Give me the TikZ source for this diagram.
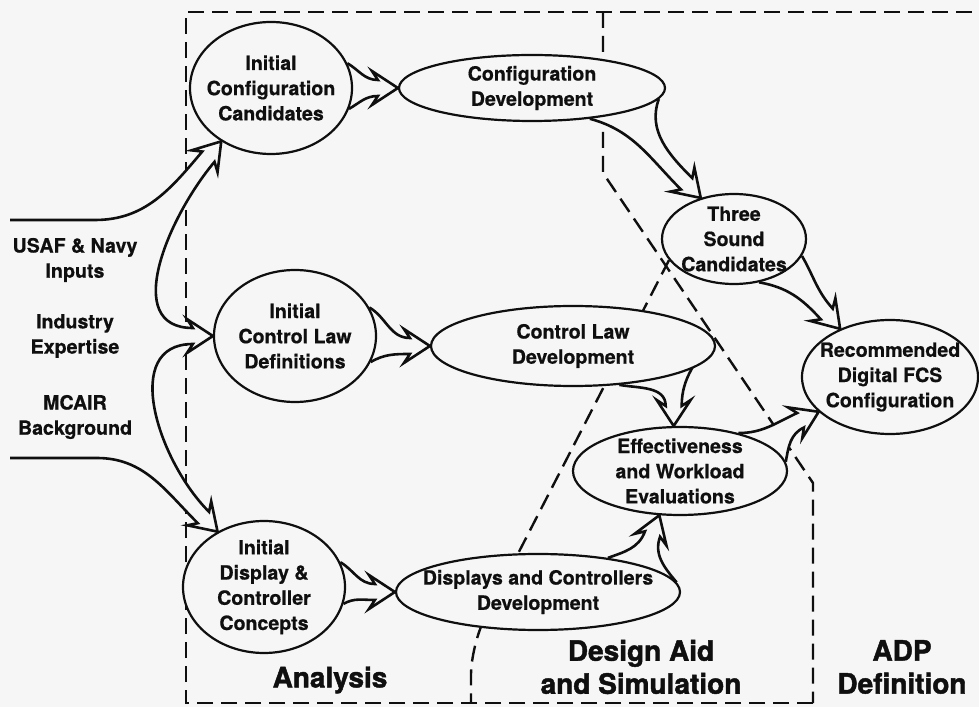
\documentclass[tikz,border=0pt]{standalone}
\usepackage{fontspec}
\setmainfont{TeX Gyre Heros}[BoldFeatures={FakeBold=0.6}]
\newfontfamily\heavyfont{TeX Gyre Heros}[BoldFeatures={FakeBold=1.6}]
\usetikzlibrary{
	shapes,
	calc}
\pgfdeclarelayer{back}
\pgfdeclarelayer{mid}
\pgfsetlayers{back,mid,main}
\definecolor{paper}{gray}{0.965}
\definecolor{ink}{gray}{0.06}

% head of a hollow block arrow: name, tip, direction
\newcommand{\fathead}[3]{%
	\path (#2) ++({#3+180}:20) ++({#3+90}:8) coordinate (#1u);
	\path (#2) ++({#3+180}:26) ++({#3+90}:17) coordinate (#1wu);
	\path (#2) ++({#3+180}:26) ++({#3-90}:17) coordinate (#1wl);
	\path (#2) ++({#3+180}:20) ++({#3-90}:8) coordinate (#1l);}

\begin{document}
\begin{tikzpicture}[x=0.5pt,y=0.5pt,every text node part/.style={align=center}]
	\tikzstyle{oval}=[ellipse,draw=ink,fill=paper,line width=1.1pt,inner sep=-15pt,
		text=ink,font=\bfseries\fontsize{9.8}{12.6}\selectfont]
	\tikzstyle{fat}=[draw=ink,fill=paper,line width=1.3pt]
	\tikzstyle{frame}=[draw=ink,line width=1.2pt,dash pattern=on 8pt off 4pt]
	\tikzstyle{side}=[text=ink,font=\bfseries\fontsize{9.8}{12.6}\selectfont]
	\tikzstyle{phase}=[text=ink,font=\heavyfont\bfseries\fontsize{14}{16.5}\selectfont]

	\useasboundingbox (0,0) rectangle (979,707);

	\foreach \name/\x/\y/\txt in {icc/271/619/{Initial\\Configuration\\Candidates},
			icl/295/371/{Initial\\Control Law\\Definitions},
			idc/264/120/{Initial\\Display \&\\Controller\\Concepts}}
		\node[oval,minimum width=81pt,minimum height=66pt] (\name) at (\x,\y) {\txt};

	\node[oval,minimum width=133pt,minimum height=33pt] (cdev) at (532,619) {Configuration\\Development};
	\node[oval,minimum width=142pt,minimum height=40pt] (cldev) at (573,361) {Control Law\\Development};
	\node[oval,minimum width=142pt,minimum height=38pt] (dcdev) at (538,115) {Displays and Controllers\\Development};
	\node[oval,minimum width=72pt,minimum height=45pt] (tsc) at (734,468) {Three\\Sound\\Candidates};
	\node[oval,minimum width=107pt,minimum height=44pt] (ewe) at (680,236) {Effectiveness\\and Workload\\Evaluations};
	\node[oval,minimum width=88pt,minimum height=57pt] (rdf) at (890,330) {Recommended\\Digital FCS\\Configuration};

	\foreach \name/\y/\txt in {usaf/447/{USAF \& Navy\\Inputs}, ind/371/{Industry\\Expertise}, mcair/290/{MCAIR\\Background}}
		\node[side] (\name) at (75,\y) {\txt};

	\node[phase] (ana) at (330,27) {Analysis};
	\node[phase] (das) at (641,40) {Design Aid\\and Simulation};
	\node[phase] (adp) at (902,40) {ADP\\Definition};

	\coordinate (inA) at (10,487);
	\coordinate (inB) at (10,249);

	% regions
	\begin{pgfonlayer}{back}
		\fill[paper] (0,0) rectangle (979,707);
		\draw[frame] (813,4) -- (186,4) -- (186,695) -- (979,695);
		\draw[frame] (603,695) -- (603,534) -- (813,224) -- (813,4);
		\draw[frame,rounded corners=15pt] (tsc.198) -- (471,62) -- (471,4);
	\end{pgfonlayer}

	% arrows
	\begin{pgfonlayer}{mid}
		\fathead{h1}{icc.227}{50}
		\fathead{h2}{icl.180}{0}
		\fathead{h3}{idc.130}{-45}
		\draw[fat] (inA) -- (95,487) to[out=0,in=230] (h1u) -- (h1wu) -- (icc.227) -- (h1wl) -- (h1l)
			to[out=230,in=180,looseness=1.1] (h2u) -- (h2wu) -- (icl.180) -- (h2wl) -- (h2l)
			to[out=180,in=135,looseness=1.1] (h3u) -- (h3wu) -- (idc.130) -- (h3wl) -- (h3l)
			to[out=135,in=0] (97,249) -- (inB);

		\fathead{a1}{cdev.west}{0}
		\draw[fat] (icc.18) to[out=-30,in=180] (a1u) -- (a1wu) -- (cdev.west) -- (a1wl) -- (a1l) to[out=180,in=30] (icc.-15);
		\fathead{a2}{cldev.west}{0}
		\draw[fat] (icl.21) to[out=-30,in=180] (a2u) -- (a2wu) -- (cldev.west) -- (a2wl) -- (a2l) to[out=180,in=30] (icl.-19);
		\fathead{a3}{dcdev.west}{0}
		\draw[fat] (idc.18) to[out=-30,in=180] (a3u) -- (a3wu) -- (dcdev.west) -- (a3wl) -- (a3l) to[out=180,in=30] (idc.-12);

		\fathead{a4}{tsc.129}{-45}
		\draw[fat] (cdev.-5) to[out=-110,in=135] (a4u) -- (a4wu) -- (tsc.129) -- (a4wl) -- (a4l) to[out=135,in=-15] (cdev.-28);
		\fathead{a5}{rdf.136}{-48}
		\draw[fat] (tsc.-14) to[out=-60,in=132] (a5u) -- (a5wu) -- (rdf.136) -- (a5wl) -- (a5l) to[out=132,in=-10] (tsc.-60);
		\fathead{a6}{ewe.98}{-90}
		\draw[fat] (cldev.4) to[out=-120,in=90] (a6u) -- (a6wu) -- (ewe.98) -- (a6wl) -- (a6l) to[out=90,in=-10] (cldev.-40);
		\fathead{a7}{ewe.245}{70}
		\draw[fat] (dcdev.26) to[out=20,in=250] (a7u) -- (a7wu) -- (ewe.245) -- (a7wl) -- (a7l) to[out=250,in=130] (dcdev.4);
		\fathead{a8}{rdf.206}{25}
		\draw[fat] (ewe.33) to[out=0,in=205] (a8u) -- (a8wu) -- (rdf.206) -- (a8wl) -- (a8l) to[out=205,in=80] (ewe.5);
	\end{pgfonlayer}

\end{tikzpicture}
\end{document}
